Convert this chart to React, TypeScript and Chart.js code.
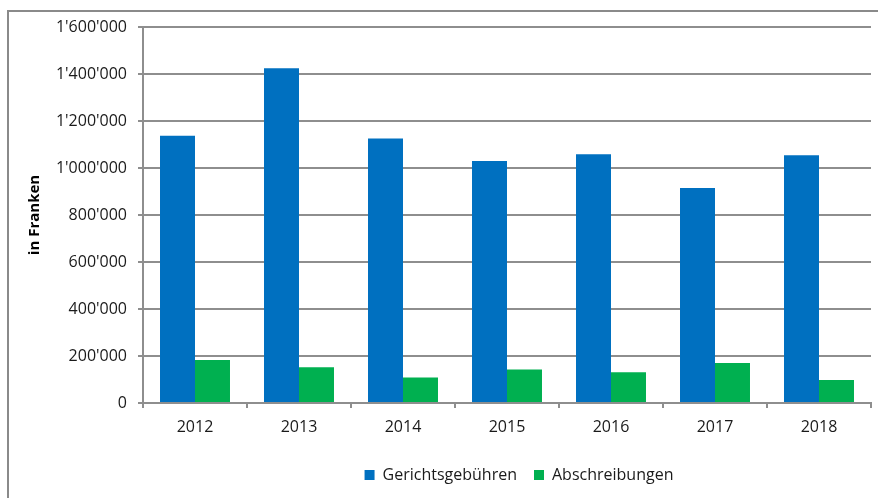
import React, { useEffect, useRef } from "react";
import { Chart, registerables } from "chart.js";

Chart.register(...registerables);

const categories = ["2012", "2013", "2014", "2015", "2016", "2017", "2018"];
const gerichtsgebuehren = [1137000, 1424000, 1126000, 1030000, 1058000, 915000, 1054000];
const abschreibungen = [183000, 152000, 109000, 143000, 131000, 170000, 98000];
const seriesNames = ["Gerichtsgebühren", "Abschreibungen"];
const yAxisTitle = "in Franken";

const FONT = "'Open Sans', sans-serif";
const GRID = "#8e8e8e";

const fmt = (v: number) => String(Math.round(v)).replace(/\B(?=(\d{3})+(?!\d))/g, "'");

const framePlugin = {
  id: "frame",
  afterLayout(chart: any) {
    if (chart.legend) {
      chart.legend.left += 12;
      chart.legend.right += 12;
    }
  },
  beforeDraw(chart: any) {
    const ctx = chart.ctx;
    ctx.save();
    ctx.strokeStyle = "#8a8a8a";
    ctx.lineWidth = 2;
    ctx.beginPath();
    ctx.moveTo(8, 498);
    ctx.lineTo(8, 11);
    ctx.lineTo(878, 11);
    ctx.stroke();
    ctx.restore();
  },
};

export default function App() {
  const ref = useRef<HTMLCanvasElement | null>(null);
  useEffect(() => {
    if (!ref.current) return;
    const chart = new Chart(ref.current, {
      type: "bar",
      data: {
        labels: categories,
        datasets: [
          {
            label: seriesNames[0],
            data: gerichtsgebuehren,
            backgroundColor: "#0070C0",
            categoryPercentage: 0.673,
            barPercentage: 1,
          },
          {
            label: seriesNames[1],
            data: abschreibungen,
            backgroundColor: "#00B050",
            categoryPercentage: 0.673,
            barPercentage: 1,
          },
        ],
      },
      options: {
        animation: false,
        responsive: false,
        maintainAspectRatio: false,
        layout: { padding: { left: 0, right: 7, top: 27, bottom: 5 } },
        plugins: {
          tooltip: { enabled: false },
          legend: {
            position: "bottom",
            fullSize: false,
            labels: {
              boxWidth: 10,
              boxHeight: 10,
              padding: 17,
              color: "#1a1a1a",
              font: { family: FONT, size: 16 },
            },
          },
        },
        scales: {
          x: {
            grid: {
              display: true,
              drawOnChartArea: false,
              drawTicks: true,
              tickLength: 5,
              offset: true,
              color: GRID,
              lineWidth: 2,
            },
            border: { display: true, color: GRID, width: 2 },
            ticks: { color: "#1a1a1a", padding: 10, font: { family: FONT, size: 16 } },
            afterFit: (s: any) => {
              s.height = 47;
            },
          },
          y: {
            min: 0,
            max: 1600000,
            grid: { color: GRID, lineWidth: 2, drawTicks: true, tickLength: 5 },
            border: { display: true, color: GRID, width: 2 },
            ticks: {
              stepSize: 200000,
              padding: 11,
              color: "#1a1a1a",
              font: { family: FONT, size: 16 },
              callback: (v: any) => fmt(Number(v)),
            },
            title: {
              display: true,
              text: yAxisTitle,
              color: "#000",
              font: { family: FONT, size: 15, weight: "bold" },
              padding: { top: 26, bottom: 0 },
            },
            afterFit: (s: any) => {
              s.width = 143;
            },
          },
        },
      },
      plugins: [framePlugin],
    });
    return () => chart.destroy();
  }, []);
  return (
    <div style={{ position: "fixed", left: 0, top: 0, width: 878, height: 498, background: "#fff" }}>
      <canvas ref={ref} width={878} height={498} style={{ display: "block" }} />
    </div>
  );
}
